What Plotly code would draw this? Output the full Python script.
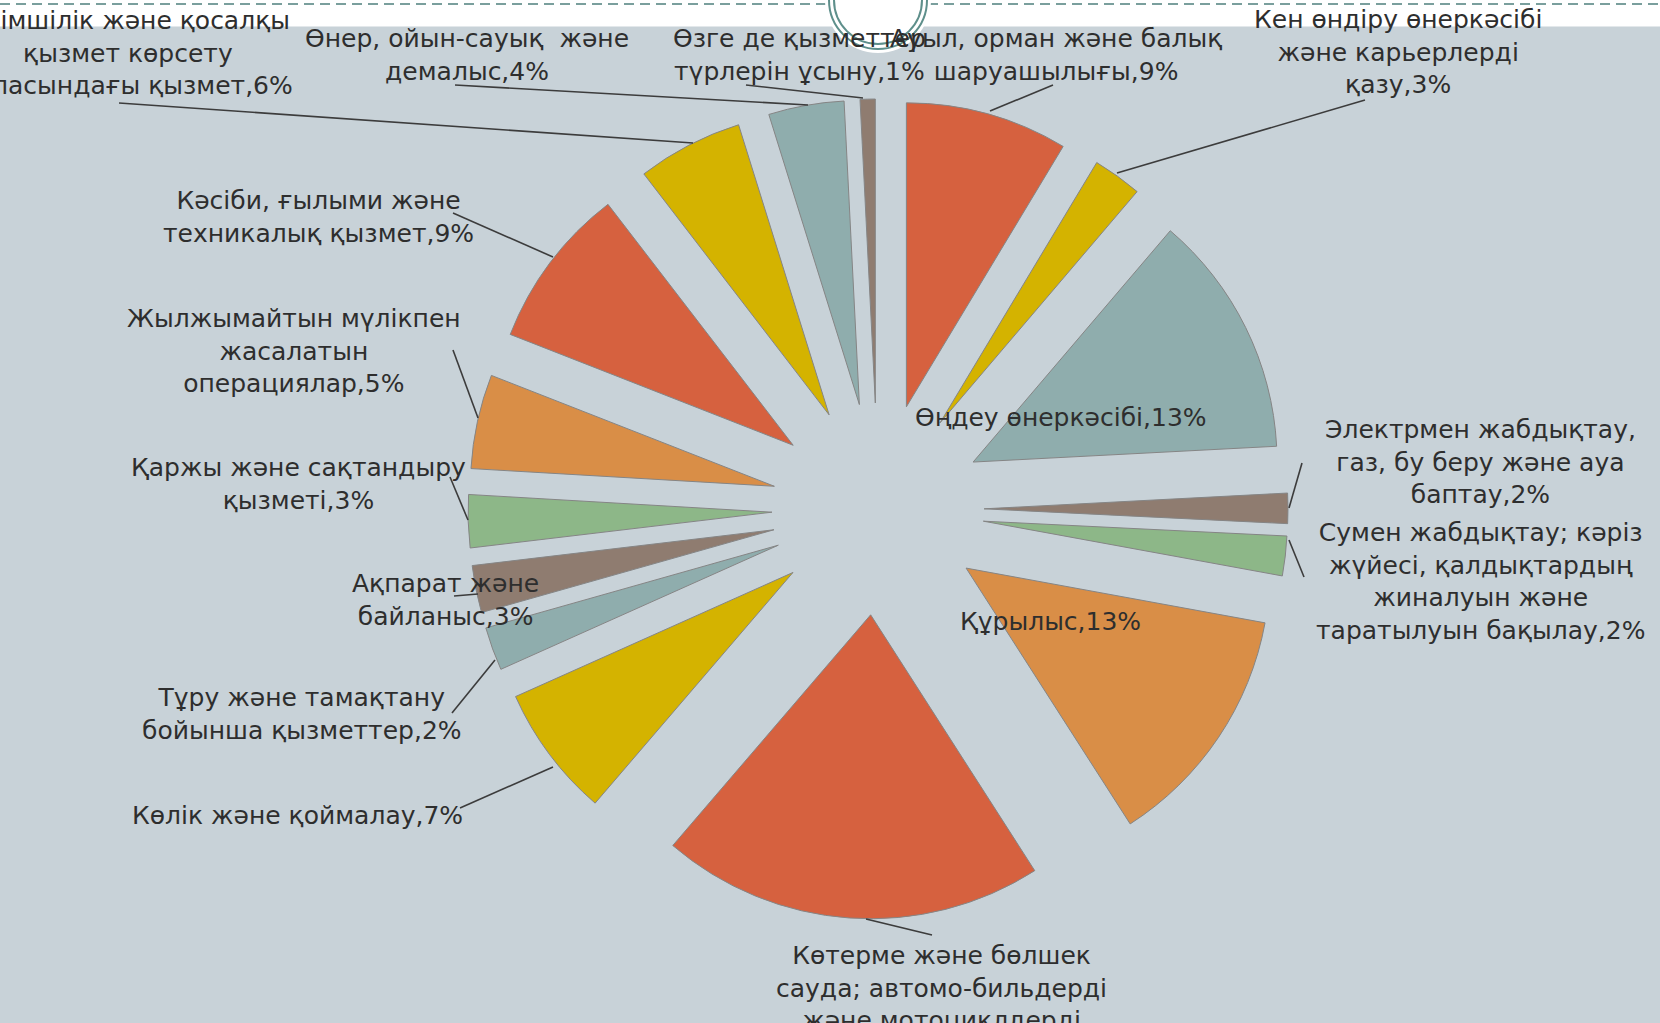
import plotly.graph_objects as go

W, H = 1660, 1023

# ---------------- data ----------------
label_lines = [
    ["Ауыл, орман және балық", "шаруашылығы"],
    ["Кен өндіру өнеркәсібі", "және карьерлерді", "қазу"],
    ["Өңдеу өнеркәсібі"],
    ["Электрмен жабдықтау,", "газ, бу беру және ауа", "баптау"],
    ["Сумен жабдықтау; кәріз", "жүйесі, қалдықтардың", "жиналуын және", "таратылуын бақылау"],
    ["Құрылыс"],
    ["Көтерме және бөлшек", "сауда; автомо-бильдерді", "және мотоциклдерді", "жөндеу"],
    ["Көлік және қоймалау"],
    ["Тұру және тамақтану", "бойынша қызметтер"],
    ["Ақпарат және", "байланыс"],
    ["Қаржы және сақтандыру", "қызметі"],
    ["Жылжымайтын мүлікпен", "жасалатын", "операциялар"],
    ["Кәсіби, ғылыми және", "техникалық қызмет"],
    ["Әкімшілік және қосалқы", "қызмет көрсету", "саласындағы қызмет"],
    ["Өнер, ойын-сауық  және", "демалыс"],
    ["Өзге де қызметтер", "түрлерін ұсыну"],
]
categories = [" ".join(l) for l in label_lines]
values = [8.6, 2.6, 12.9, 1.6, 2.1, 13.0, 20.3, 7.0, 2.3, 2.5, 2.8, 5.0, 8.6, 5.6, 4.0, 0.8]

# ---------------- styling / layout ----------------
palette = ["#d6613f", "#d4b300", "#8fadad", "#8f7c70", "#8db788", "#d98e47"]
colors = [palette[i % 6] for i in range(len(values))]

# label block centres (pixels)
label_pos = [
    (1056, 55), (1398, 52), (1061, 417), (1480, 462), (1480, 581), (1050, 621),
    (941, 1004), (297, 815), (302, 714), (445, 600), (298, 484), (294, 351),
    (318, 217), (128, 53), (467, 55), (799, 55),
]
# leader lines (pixels)
leaders = [
    [(990, 111), (1053, 85)],
    [(1117, 173), (1365, 100)],
    None,
    [(1289, 508), (1302, 463)],
    [(1289, 540), (1304, 577)],
    None,
    [(866, 919), (932, 935)],
    [(553, 767), (460, 808)],
    [(495, 660), (452, 713)],
    [(454, 596), (478, 594)],
    [(468, 520), (450, 477)],
    [(478, 418), (453, 350)],
    [(553, 257), (453, 213)],
    [(693, 143), (119, 103)],
    [(808, 105), (455, 85)],
    [(863, 98), (746, 85)],
]


def px(x):
    return x / W


def py(y):
    return 1 - y / H


CX, CY, BOX = 878, 509, 820
PULL = 0.349

fig = go.Figure(go.Pie(
    values=values,
    labels=categories,
    sort=False,
    direction="clockwise",
    rotation=0,
    pull=PULL,
    marker=dict(colors=colors, line=dict(color="#858585", width=1)),
    textinfo="none",
    hoverinfo="label+percent",
    showlegend=False,
    domain=dict(x=[px(CX - BOX / 2), px(CX + BOX / 2)],
                y=[py(CY + BOX / 2), py(CY - BOX / 2)]),
))

total = sum(values)
annotations = []
for lines, v, (x, y) in zip(label_lines, values, label_pos):
    pct = round(v / total * 100)
    txt = "<br>".join(lines[:-1] + [f"{lines[-1]},{pct}%"])
    annotations.append(dict(
        x=px(x), y=py(y), xref="paper", yref="paper",
        xanchor="center", yanchor="middle", align="center",
        showarrow=False, text=txt,
        font=dict(family="DejaVu Sans", size=25, color="#2e2e2e"),
    ))

shapes = [
    dict(type="rect", xref="paper", yref="paper", x0=0, x1=1, y0=0, y1=py(26.5),
         fillcolor="#c8d2d8", line=dict(width=0), layer="below"),
]
for seg in leaders:
    if seg is None:
        continue
    (x0, y0), (x1, y1) = seg
    shapes.append(dict(type="line", xref="paper", yref="paper",
                       x0=px(x0), y0=py(y0), x1=px(x1), y1=py(y1),
                       line=dict(color="#3c3c3c", width=1.6), layer="above"))

# slide decoration: dashed rule and circle ornament
shapes.append(dict(type="line", xref="paper", yref="paper", x0=0, x1=1, y0=py(4), y1=py(4),
                   line=dict(color="#7a9f9d", width=2, dash="10px,6px"), layer="above"))
for r, fill, lc, lw in [(53, "white", "white", 0), (49, None, "#5e8f8b", 2), (44, None, "#5e8f8b", 2)]:
    d = dict(type="circle", xref="paper", yref="paper",
             x0=px(CX - r), x1=px(CX + r), y0=py(0 + r), y1=py(0 - r),
             line=dict(color=lc, width=lw), layer="above")
    if fill:
        d["fillcolor"] = fill
    shapes.append(d)

fig.update_layout(
    width=W, height=H,
    margin=dict(l=0, r=0, t=0, b=0),
    paper_bgcolor="white",
    showlegend=False,
    shapes=shapes,
    annotations=annotations,
)

fig.write_html("out.html",
               config={"displayModeBar": False},
               post_script="document.body.style.margin='0';document.body.style.overflow='hidden';")
